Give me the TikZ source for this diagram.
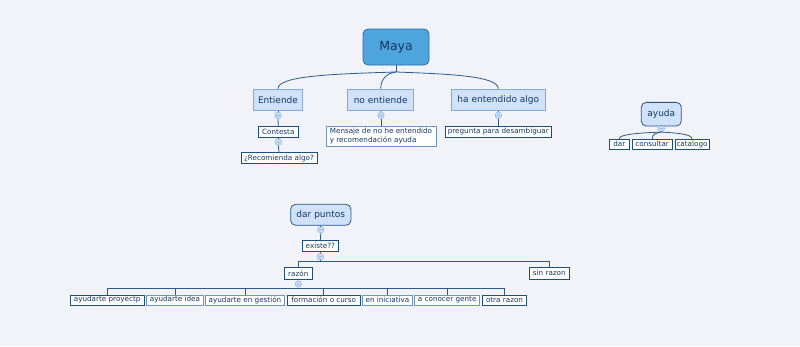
\documentclass[tikz,border=0pt]{standalone}
\usepackage{fontspec}
\setmainfont{DejaVu Sans}
\definecolor{bg}{HTML}{F2F3F9}
\definecolor{rootfill}{HTML}{4EA4DD}
\definecolor{rootedge}{HTML}{2B6EA3}
\definecolor{topicfill}{HTML}{CFE2FA}
\definecolor{topicedge}{HTML}{86AAD8}
\definecolor{darkedge}{HTML}{26598A}
\definecolor{leafedge}{HTML}{1D4F7E}
\definecolor{softedge}{HTML}{6F95BF}
\definecolor{linecol}{HTML}{2B5A87}
\definecolor{knobfill}{HTML}{C6DCF4}
\definecolor{knobedge}{HTML}{9BBDE3}
\definecolor{inktext}{HTML}{17385F}
\tikzset{
  root/.style={draw=rootedge, fill=rootfill, rounded corners=5pt, line width=0.8pt,
    minimum width=66pt, minimum height=36pt, inner sep=0pt, text=inktext,
    font=\fontsize{12.5}{14}\selectfont},
  topic/.style={draw=topicedge, fill=topicfill, line width=0.8pt,
    minimum height=21.7pt, inner sep=0pt, text=inktext, font=\fontsize{9}{11}\selectfont},
  roundtopic/.style={draw=darkedge, fill=topicfill, rounded corners=5pt, line width=0.8pt,
    inner sep=0pt, text=inktext, font=\fontsize{9}{11}\selectfont},
  leaf/.style={draw=leafedge, fill=white, line width=0.8pt, minimum height=11pt,
    inner sep=0pt, text=inktext, font=\fontsize{7.2}{8.6}\selectfont},
  softleaf/.style={leaf, draw=softedge},
  knob/.style={circle, draw=knobedge, fill=knobfill, line width=0.6pt,
    minimum size=6.5pt, inner sep=0pt,
    path picture={\draw[knobedge, line width=0.6pt]
      ([xshift=-1.8pt]path picture bounding box.center) --
      ([xshift=1.8pt]path picture bounding box.center);}},
  link/.style={draw=linecol, line width=0.8pt}
}
\begin{document}
\begin{tikzpicture}[x=1pt,y=-1pt]
\useasboundingbox (0,0) rectangle (800,346);
\fill[bg] (0,0) rectangle (800,346);

% root and topics
\node[root] (maya) at (396,47) {Maya};
\node[topic, minimum width=49.4pt] (ent) at (278,100) {Entiende};
\node[topic, minimum width=66pt] (noent) at (380.7,100) {no entiende};
\node[topic, minimum width=94pt] (haent) at (498.3,100) {ha entendido algo};

% knobs
\node[knob] (k1) at (278,115.3) {};
\node[knob] (k2) at (278.3,142) {};
\node[knob] (k3) at (381,115.3) {};
\node[knob] (k4) at (498.3,115.3) {};

% leaves under topics
\node[leaf, minimum width=40pt] (cont) at (278.3,131.7) {Contesta};
\node[leaf, minimum width=76pt] (recom) at (279,158.3) {¿Recomienda algo?};
\node[softleaf, minimum width=110pt, minimum height=20pt, align=left] (mens) at (381,136)
  {Mensaje de no he entendido\\y recomendación ayuda};
\node[leaf, minimum width=106pt] (preg) at (498.3,131.7) {pregunta para desambiguar};

% connectors from root
\coordinate (jm) at (396,72);
\draw[link] (maya.south) -- (jm);
\draw[link] (jm) .. controls (330,74) and (278,76) .. (ent.north);
\draw[link] (jm) .. controls (388,73) and (380.7,78) .. (noent.north);
\draw[link] (jm) .. controls (450,74) and (498.3,76) .. (haent.north);

\draw[link] (ent.south) -- (k1.north);
\draw[link] (k1.south) -- (cont.north);
\draw[link] (cont.south) -- (k2.north);
\draw[link] (k2.south) -- (recom.north);
\draw[link] (noent.south) -- (k3.north);
\draw[link] (k3.south) -- (mens.north);
\draw[link] (haent.south) -- (k4.north);
\draw[link] (k4.south) -- (preg.north);

% ayuda
\node[roundtopic, minimum width=40pt, minimum height=23.7pt] (ayuda) at (661.3,114.2) {ayuda};
\node[knob] (k5) at (661.3,128.5) {};
\node[leaf, minimum width=20pt, minimum height=10pt] (dar) at (619.3,144.2) {dar};
\node[leaf, minimum width=40pt, minimum height=10pt] (cons) at (652.2,144.2) {consultar};
\node[leaf, minimum width=34pt, minimum height=10pt] (cat) at (692,144.2) {catalogo};
\draw[link] (ayuda.south) -- (k5.north);
\draw[link] (k5.south) .. controls (640,133) and (619.3,134) .. (dar.north);
\draw[link] (k5.south) .. controls (656,133) and (652.2,134) .. (cons.north);
\draw[link] (k5.south) .. controls (676,133) and (692,134) .. (cat.north);

% dar puntos
\node[roundtopic, minimum width=60.3pt, minimum height=21pt] (dp) at (320.8,214.8) {dar puntos};
\node[knob] (k6) at (320.8,229.7) {};
\node[leaf, minimum width=36pt] (exi) at (320.3,246.2) {existe??};
\node[knob] (k7) at (320.3,256.7) {};
\node[leaf, minimum width=28pt, minimum height=11.7pt] (razon) at (298.3,273.2) {razón};
\node[leaf, minimum width=40pt, minimum height=11.7pt] (sinr) at (549.3,273.2) {sin razon};
\node[knob] (k8) at (298.3,284) {};
\draw[link] (dp.south) -- (k6.north);
\draw[link] (k6.south) -- (exi.north);
\draw[link] (exi.south) -- (k7.north);
\coordinate (h1) at (320.3,261);
\draw[link] (k7.south) -- (h1);
\draw[link] (razon.north) -- (razon.north |- h1) -- (sinr.north |- h1) -- (sinr.north);

% reasons
\node[leaf, minimum width=73.7pt, minimum height=10pt] (r1) at (107.2,300) {ayudarte proyectp};
\node[softleaf, minimum width=57.4pt, minimum height=10pt] (r2) at (175,300) {ayudarte idea};
\node[softleaf, minimum width=78.6pt, minimum height=10pt] (r3) at (245,300) {ayudarte en gestión};
\node[leaf, minimum width=72.7pt, minimum height=10pt] (r4) at (323.7,300) {formación o curso};
\node[softleaf, minimum width=49.6pt, minimum height=10pt] (r5) at (387.5,300) {en iniciativa};
\node[softleaf, minimum width=65pt, minimum height=10pt] (r6) at (447.2,300) {a conocer gente};
\node[leaf, minimum width=44.4pt, minimum height=10pt] (r7) at (504.5,300) {otra razon};
\draw[link] (razon.south) -- (k8.north);
\coordinate (h2) at (298.3,288.3);
\draw[link] (k8.south) -- (h2);
\draw[link] (r1.north |- h2) -- (r7.north |- h2);
\foreach \r in {r1,r2,r3,r4,r5,r6,r7}{
  \draw[link] (\r.north) -- (\r.north |- h2);
}
\end{tikzpicture}
\end{document}
